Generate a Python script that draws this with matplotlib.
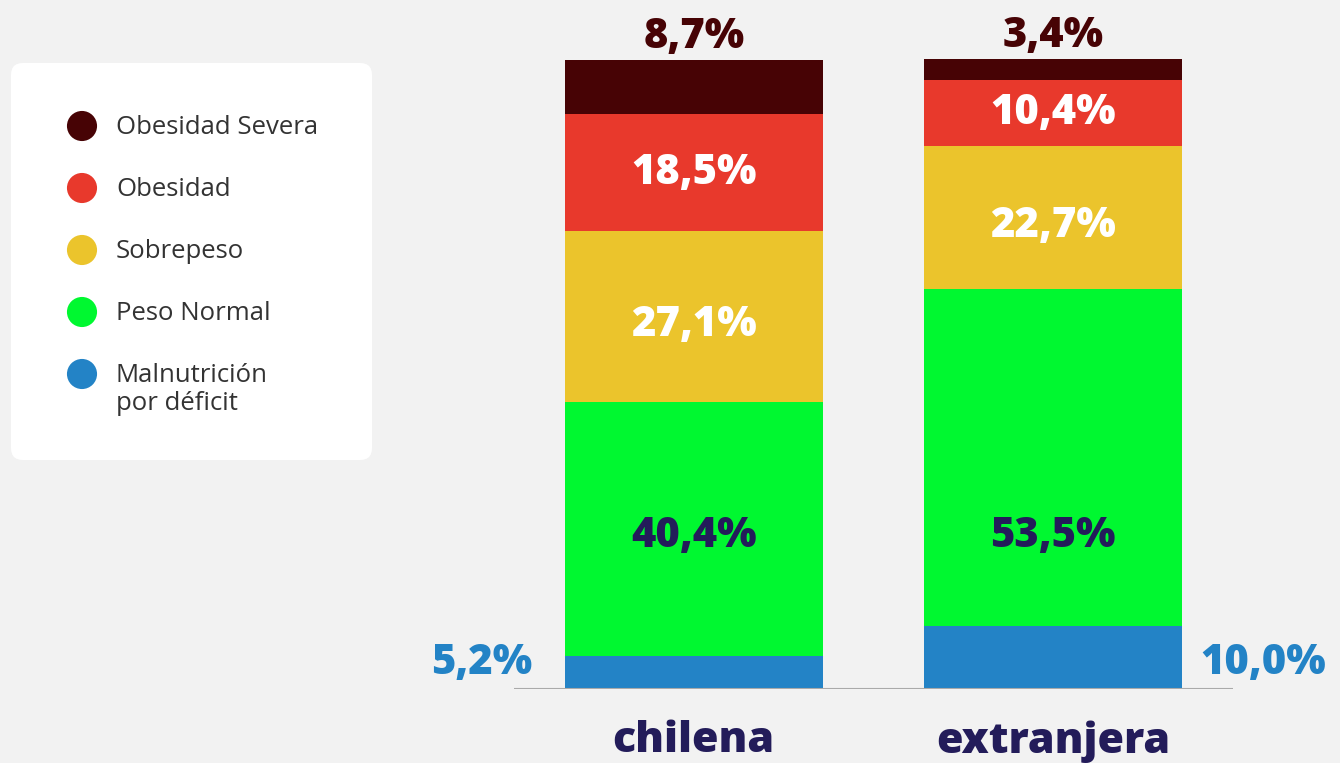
import matplotlib
matplotlib.use("Agg")
import matplotlib.pyplot as plt
from matplotlib.patches import FancyBboxPatch

# ---- data ----
categories = ["chilena", "extranjera"]
series_names = ["Malnutrición\npor déficit", "Peso Normal", "Sobrepeso", "Obesidad", "Obesidad Severa"]
malnutricion = [5.2, 10.0]
peso_normal = [40.4, 53.5]
sobrepeso = [27.1, 22.7]
obesidad = [18.5, 10.4]
obesidad_severa = [8.7, 3.4]
series_values = [malnutricion, peso_normal, sobrepeso, obesidad, obesidad_severa]

colors = ["#2383C6", "#00F830", "#EBC42C", "#E8392C", "#470305"]
label_colors = ["#2383C6", "#231C5A", "#FFFFFF", "#FFFFFF", "#470305"]
BG = "#F2F2F2"

plt.rcParams['font.family'] = ['Open Sans', 'DejaVu Sans']

W, H = 1340, 763
fig = plt.figure(figsize=(W / 100, H / 100), dpi=100)
fig.patch.set_facecolor(BG)

ax = fig.add_axes([514 / W, 74 / H, 719 / W, 630 / H])
ax.set_facecolor(BG)
ax.set_xlim(-0.5, 1.5)
ax.set_ylim(0, 100)
for s in ax.spines.values():
    s.set_visible(False)
ax.set_xticks([])
ax.set_yticks([])

FS = 30
FW = 800
x = list(range(len(categories)))
width = 0.718
bottoms = [0.0] * len(categories)
for si, vals in enumerate(series_values):
    ax.bar(x, vals, width=width, bottom=bottoms, color=colors[si], zorder=2)
    for i, v in enumerate(vals):
        txt = f"{v:.1f}".replace(".", ",") + "%"
        kw = dict(color=label_colors[si], fontsize=FS, fontweight=FW, va="center")
        if si == 0:
            if i == 0:
                ax.text(x[i] - width / 2 - 0.09, 4.1, txt, ha="right", clip_on=False, **kw)
            else:
                ax.text(x[i] + width / 2 + 0.05, 4.1, txt, ha="left", clip_on=False, **kw)
        elif si == len(series_values) - 1:
            ax.text(x[i], bottoms[i] + v + 3.6, txt, ha="center", clip_on=False, **kw)
        elif si == 1:
            ax.text(x[i], 24.3, txt, ha="center", **kw)
        elif si == 2:
            ax.text(x[i], bottoms[i] + v / 2 - 1.4, txt, ha="center", **kw)
        else:
            ax.text(x[i], bottoms[i] + v / 2, txt, ha="center", **kw)
        bottoms[i] += v

ax.axhline(0, color="#AAAAAA", lw=1.5, zorder=3)

for i, c in enumerate(categories):
    ax.text(x[i], -8.3, c, ha="center", va="center", color="#231C5A",
            fontsize=31, fontweight=FW, clip_on=False)

# ---- legend ----
lax = fig.add_axes([0, 0, 1, 1], zorder=-1)
lax.set_xlim(0, W)
lax.set_ylim(H, 0)
lax.axis("off")
box = FancyBboxPatch((11, 63), 361, 397, boxstyle="round,pad=0,rounding_size=12",
                     facecolor="white", edgecolor="none")
lax.add_patch(box)
rows_y = [126, 188, 250, 312, 374]
legend_order = list(range(len(series_names)))[::-1]
for r, si in enumerate(legend_order):
    lax.scatter([82], [rows_y[r]], s=470, color=colors[si], edgecolors="none")
    for k, line in enumerate(series_names[si].split("\n")):
        lax.text(116, rows_y[r] + 2 + 27 * k, line, ha="left", va="center",
                 color="#333333", fontsize=18.5)

fig.savefig("out.png", dpi=100, facecolor=BG)
